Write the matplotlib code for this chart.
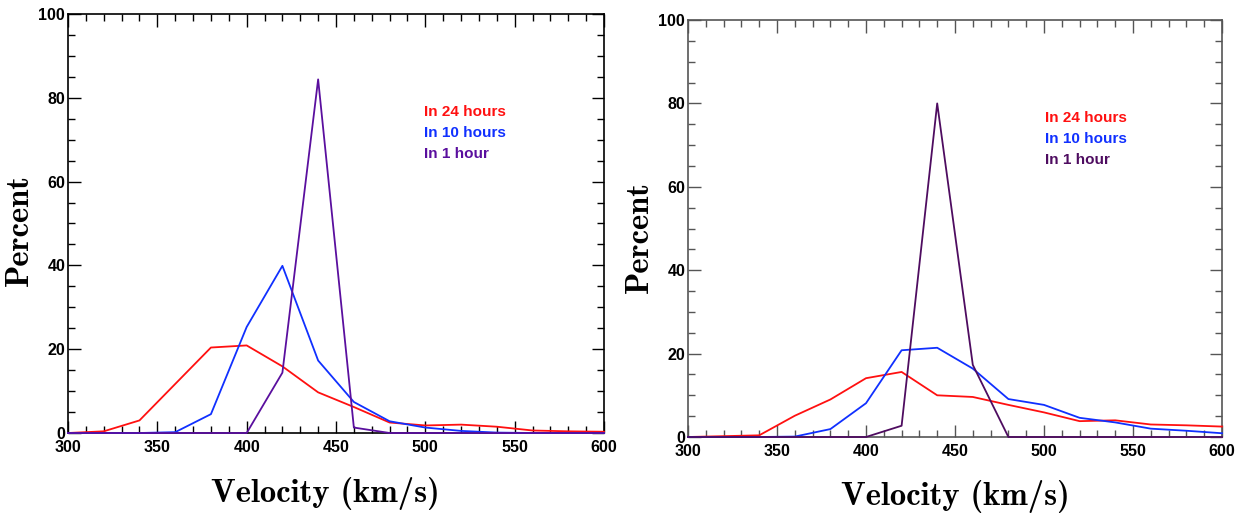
import matplotlib
matplotlib.use("Agg")
import matplotlib.pyplot as plt
from matplotlib.ticker import MultipleLocator

# Velocity bins (km/s)
velocity = [300, 320, 340, 360, 380, 400, 420, 440, 460, 480, 500,
            520, 540, 560, 580, 600]

# Panel A: percent of events per velocity bin
a_24h = [0, 0.4, 3.0, 11.7, 20.4, 20.9, 15.9, 9.7, 6.2, 2.5, 1.8,
         2.0, 1.5, 0.6, 0.4, 0.3]
a_10h = [0, 0, 0, 0.2, 4.5, 25.3, 39.9, 17.3, 7.4, 2.8, 1.3,
         0.5, 0.1, 0, 0, 0]
a_1h = [0, 0, 0, 0, 0, 0, 14.4, 84.4, 1.3, 0, 0,
        0, 0, 0, 0, 0]

# Panel B
b_24h = [0, 0.2, 0.4, 5.1, 9.0, 14.1, 15.6, 10.0, 9.6, 7.7, 5.9,
         3.8, 4.0, 3.0, 2.8, 2.5]
b_10h = [0, 0, 0, 0.1, 1.9, 8.1, 20.8, 21.4, 16.4, 9.1, 7.7,
         4.6, 3.5, 2.0, 1.5, 0.9]
b_1h = [0, 0, 0, 0, 0, 0, 2.7, 80.0, 17.3, 0, 0,
        0, 0, 0, 0, 0]

labels = ["In 24 hours", "In 10 hours", "In 1 hour"]

W, H = 1251, 513
fig = plt.figure(figsize=(W / 100, H / 100), dpi=100)

panels = [
    dict(rect=[68 / W, 1 - 433 / H, (604 - 68) / W, (433 - 14) / H],
         series=[a_24h, a_10h, a_1h],
         colors=["#ff1010", "#1030ff", "#5a0f9e"],
         axcolor="black", text_xy=(424, 112),
         xlab=(0.481, -0.105), ylab=(-0.064, 0.484)),
    dict(rect=[688 / W, 1 - 437 / H, (1222 - 688) / W, (437 - 20) / H],
         series=[b_24h, b_10h, b_1h],
         colors=["#ff1010", "#1030ff", "#4e0c60"],
         axcolor="#555555", text_xy=(1045, 118),
         xlab=(0.5, -0.104), ylab=(-0.063, 0.48)),
]

tick_font = dict(family="Liberation Sans", weight="bold", size=11.5)
legend_font = dict(family="Liberation Sans", weight="bold", size=11)
label_font = dict(family="cmb10", size=23.5)

for p in panels:
    ax = fig.add_axes(p["rect"])
    for y, c in zip(p["series"], p["colors"]):
        ax.plot(velocity, y, color=c, lw=1.3, clip_on=False, zorder=3)
    ax.set_xlim(300, 600)
    ax.set_ylim(0, 100)
    ax.xaxis.set_major_locator(MultipleLocator(50))
    ax.xaxis.set_minor_locator(MultipleLocator(10))
    ax.yaxis.set_major_locator(MultipleLocator(20))
    ax.yaxis.set_minor_locator(MultipleLocator(5))
    ax.tick_params(which="both", direction="in", top=True, right=True,
                   color=p["axcolor"], width=1)
    ax.tick_params(which="major", length=9)
    ax.tick_params(which="minor", length=5)
    ax.tick_params(axis="x", which="major", pad=5)
    ax.tick_params(axis="y", which="major", pad=2)
    for s in ax.spines.values():
        s.set_color(p["axcolor"])
        s.set_linewidth(1.2)
    for t in ax.get_xticklabels() + ax.get_yticklabels():
        t.set_fontfamily(tick_font["family"])
        t.set_fontweight(tick_font["weight"])
        t.set_fontsize(tick_font["size"])
    # nudge the lowest y label up so it clears the x labels
    ax.get_yticklabels()[0].set_va("bottom")
    ax.set_xlabel("Velocity (km/s)", **label_font)
    ax.set_ylabel("Percent", **label_font)
    ax.xaxis.set_label_coords(*p["xlab"])
    ax.yaxis.set_label_coords(*p["ylab"])

    tx, ty = p["text_xy"]
    for i, (lab, c) in enumerate(zip(labels, p["colors"])):
        fig.text(tx / W, 1 - (ty + i * 21) / H, lab, color=c,
                 ha="left", va="center", **legend_font)

fig.savefig("out.png", dpi=100)
